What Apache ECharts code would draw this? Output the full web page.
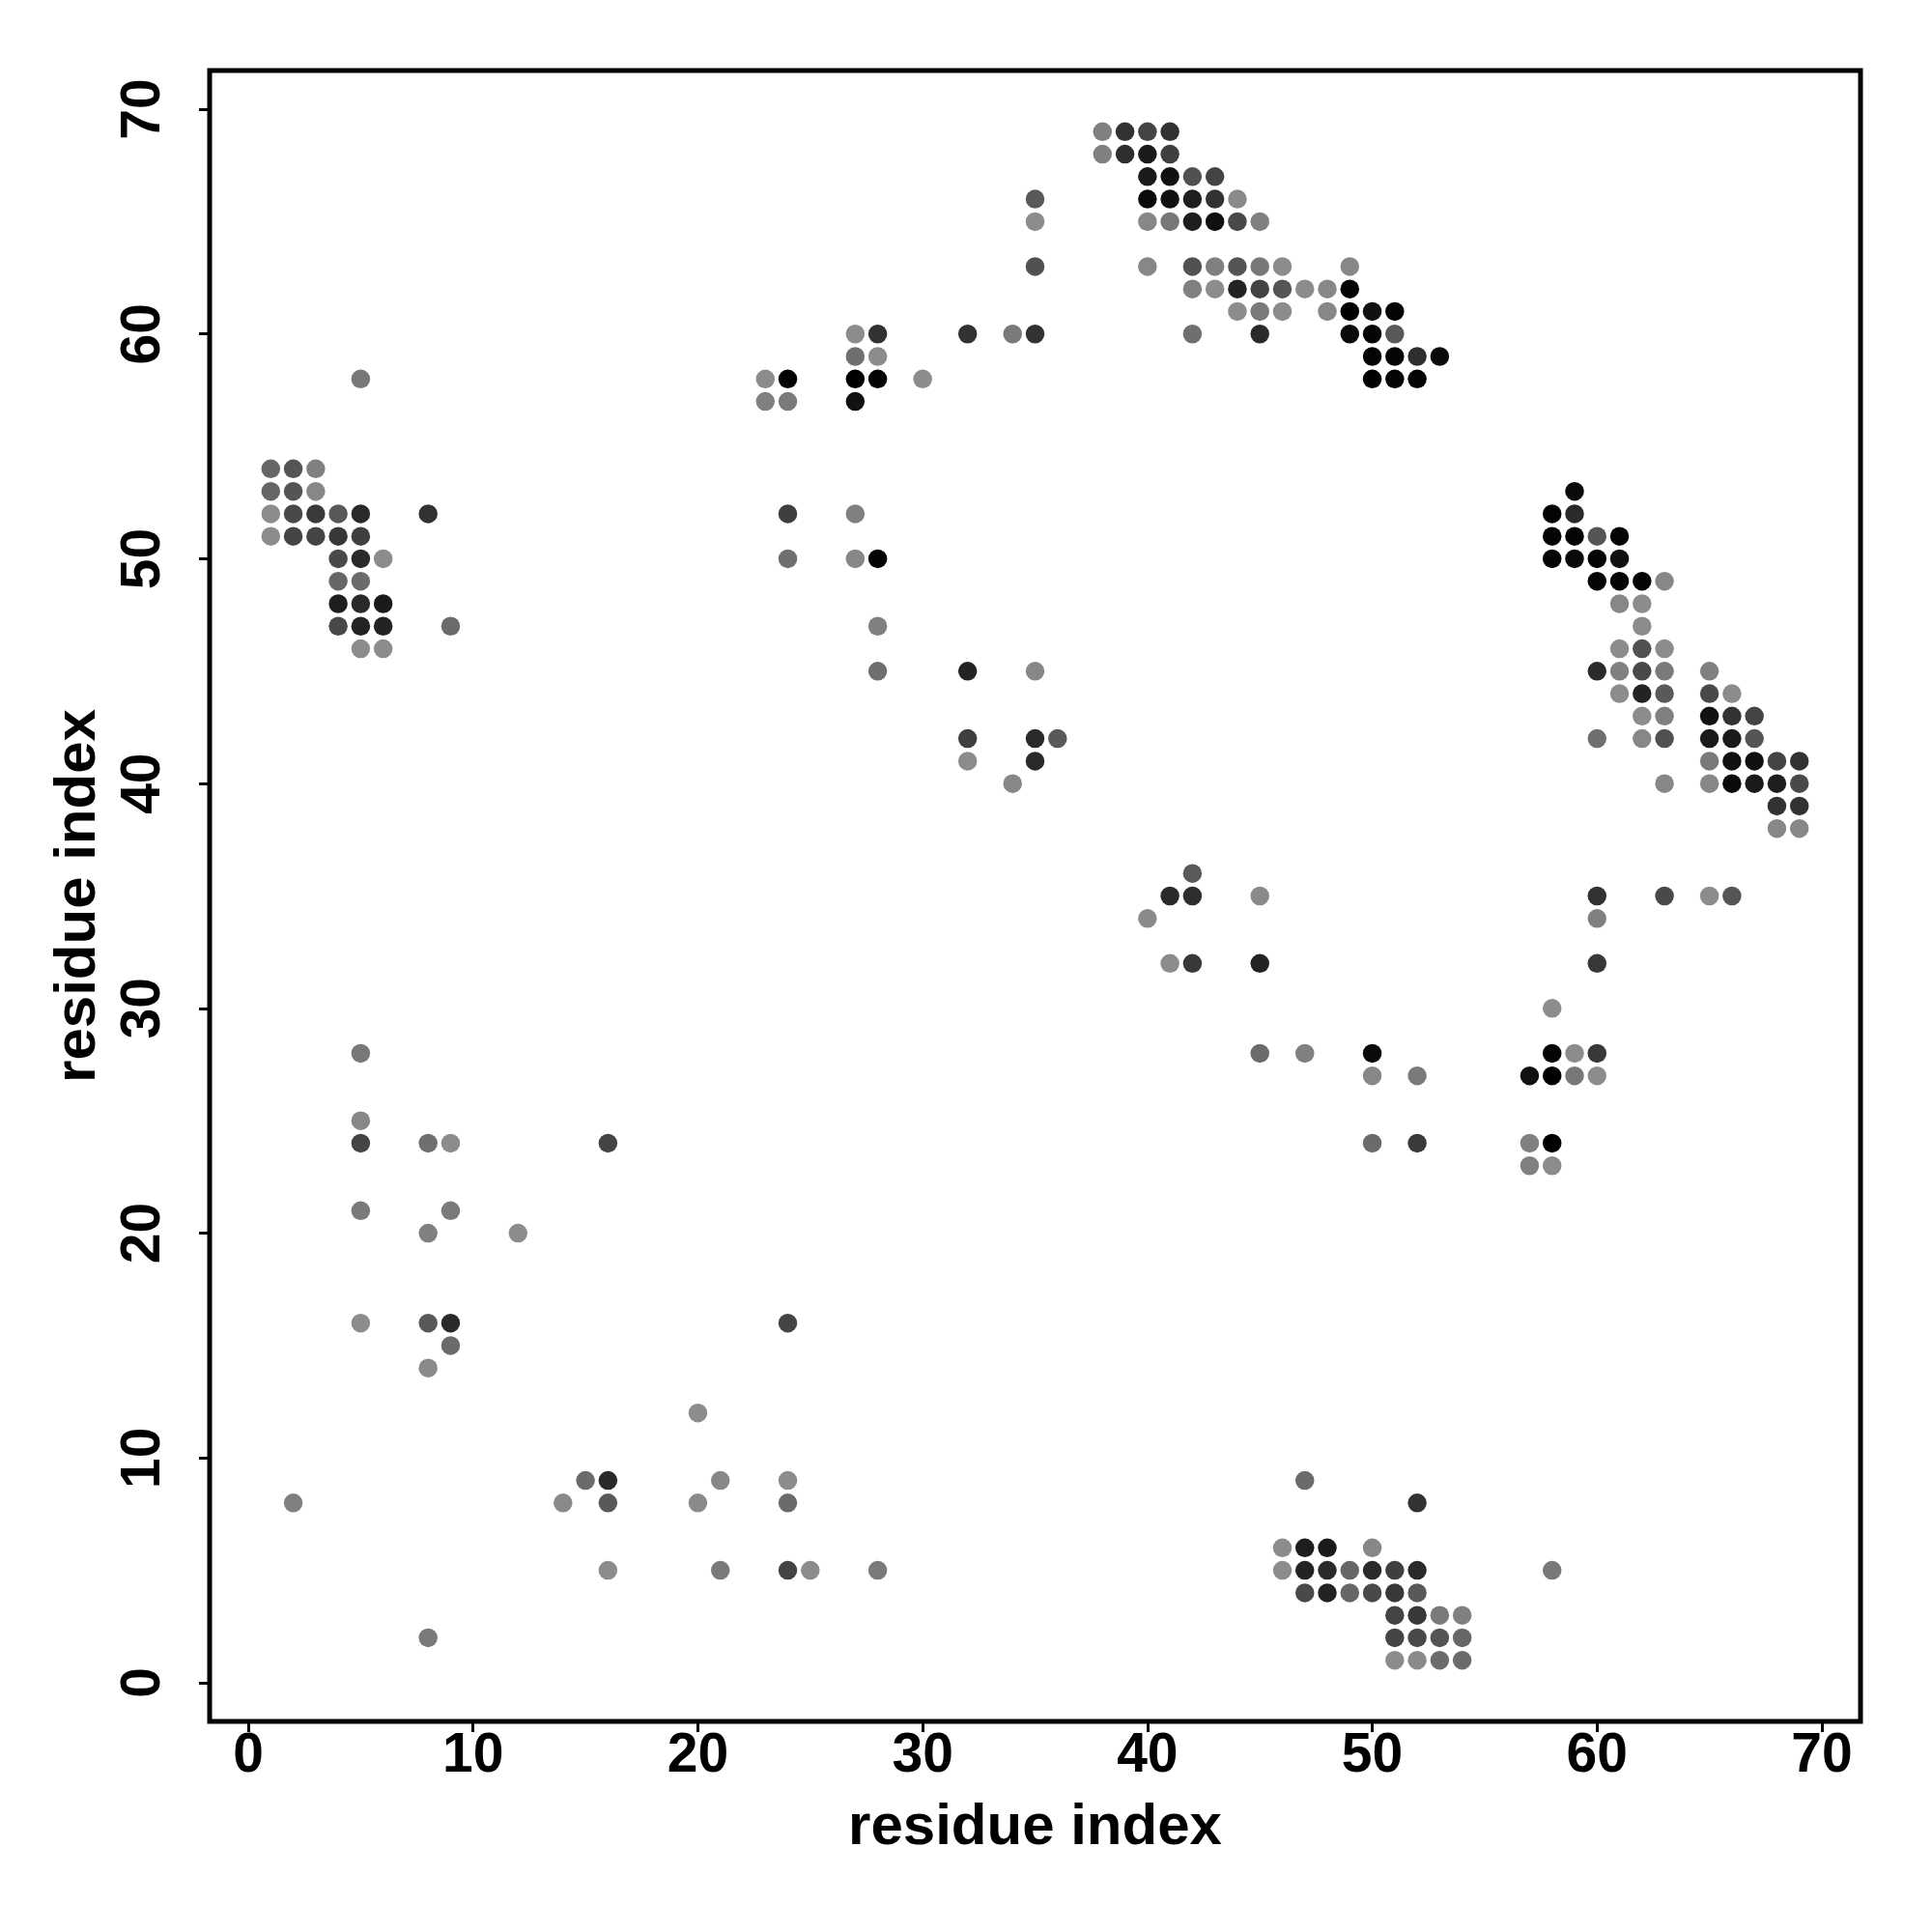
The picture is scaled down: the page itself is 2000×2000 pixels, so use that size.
<!DOCTYPE html>
<html><head><meta charset="utf-8">
<script src="https://cdn.jsdelivr.net/npm/echarts@6/dist/echarts.min.js"></script>
<style>html,body{margin:0;padding:0;background:#fff}#c{width:2000px;height:2000px}</style>
</head><body><div id="c"></div>
<script>
// ---- data ----
const tickValues = [0, 10, 20, 30, 40, 50, 60, 70];
const xTitle = 'residue index';
const yTitle = 'residue index';
const axisMin = -1.72, axisMax = 71.72;

// each contact: [residue i, residue j, strength (0 = light grey, 1 = black)]
const contactsUpperLeft = [
  [5,58,0.17],
  [1,54,0.29],[2,54,0.41],[3,54,0.11],
  [1,53,0.29],[2,53,0.41],[3,53,0.06],
  [1,52,0.03],[2,52,0.49],[3,52,0.60],[4,52,0.38],[5,52,0.71],[8,52,0.65],
  [1,51,0.03],[2,51,0.53],[3,51,0.53],[4,51,0.61],[5,51,0.56],
  [4,50,0.49],[5,50,0.71],[6,50,0.03],
  [4,49,0.29],[5,49,0.26],
  [4,48,0.79],[5,48,0.71],[6,48,0.82],
  [4,47,0.49],[5,47,0.76],[6,47,0.76],[9,47,0.26],
  [5,46,0.03],[6,46,0.03]
];
const contactsLowerLeft = [
  [5,28,0.17],[5,25,0.06],
  [5,24,0.53],[8,24,0.23],[9,24,0.03],[16,24,0.53],
  [5,21,0.15],[9,21,0.15],
  [8,20,0.11],[12,20,0.03],
  [5,16,0.03],[8,16,0.38],[9,16,0.71],[24,16,0.53],
  [9,15,0.26],[8,14,0.04],[20,12,0.03],
  [15,9,0.26],[16,9,0.71],[21,9,0.06],[24,9,0.03],
  [2,8,0.11],[14,8,0.04],[16,8,0.38],[20,8,0.04],[24,8,0.26],
  [16,5,0.03],[21,5,0.15],[24,5,0.53],[25,5,0.03],[28,5,0.15],
  [8,2,0.15]
];
const contactsLowerRight = [
  [47,9,0.26],[52,8,0.65],
  [46,6,0.03],[47,6,0.79],[48,6,0.82],[50,6,0.06],
  [46,5,0.03],[47,5,0.76],[48,5,0.71],[49,5,0.29],[50,5,0.71],[51,5,0.56],[52,5,0.71],[58,5,0.17],
  [47,4,0.49],[48,4,0.76],[49,4,0.29],[50,4,0.49],[51,4,0.61],[52,4,0.38],
  [51,3,0.53],[52,3,0.61],[53,3,0.15],[54,3,0.11],
  [51,2,0.53],[52,2,0.49],[53,2,0.41],[54,2,0.29],
  [51,1,0.03],[52,1,0.04],[53,1,0.26],[54,1,0.26]
];
const contactsMiddle = [
  [24,52,0.56],[27,52,0.11],
  [24,50,0.23],[27,50,0.06],[28,50,0.97],
  [28,47,0.11],
  [28,45,0.23],[32,45,0.76],[35,45,0.06],
  [32,42,0.56],[35,42,0.71],[36,42,0.38],
  [32,41,0.03],[35,41,0.71],[34,40,0.06],
  [42,36,0.38],[41,35,0.71],[42,35,0.68],[45,35,0.04],
  [40,34,0.04],
  [41,32,0.03],[42,32,0.61],[45,32,0.76],
  [45,28,0.26],[47,28,0.11],
  [50,28,0.93],[50,27,0.06],[52,27,0.15],
  [50,24,0.26],[52,24,0.60],
  [58,30,0.03],
  [57,27,0.88],[58,28,0.97],[58,27,1.00],[59,28,0.03],[59,27,0.17],[60,28,0.61],[60,27,0.03],
  [57,24,0.11],[58,24,1.00],[57,23,0.11],[58,23,0.03],
  [60,35,0.65],[60,34,0.11],[60,32,0.61],
  [63,35,0.49],[65,35,0.03],[66,35,0.41]
];
const contactsTopMiddle = [
  [23,58,0.03],[24,58,0.97],[23,57,0.11],[24,57,0.15],
  [27,60,0.03],[28,60,0.65],[27,59,0.23],[28,59,0.03],
  [27,58,1.00],[28,58,0.97],[27,57,0.88],[30,58,0.03],
  [32,60,0.65],[34,60,0.15],[35,60,0.65],
  [35,63,0.44],[35,65,0.03],[35,66,0.38]
];
const contactsTop = [
  [38,69,0.11],[39,69,0.65],[40,69,0.53],[41,69,0.65],
  [38,68,0.11],[39,68,0.68],[40,68,0.82],[41,68,0.56],
  [40,67,0.82],[41,67,0.88],[42,67,0.44],[43,67,0.53],
  [40,66,0.93],[41,66,0.88],[42,66,0.79],[43,66,0.65],[44,66,0.04],
  [40,65,0.06],[41,65,0.17],[42,65,0.79],[43,65,0.88],[44,65,0.49],[45,65,0.11],
  [40,63,0.06],[42,63,0.44],[43,63,0.11],[44,63,0.41],[45,63,0.17],[46,63,0.03],[49,63,0.06],
  [42,62,0.11],[43,62,0.03],[44,62,0.76],[45,62,0.53],[46,62,0.41],[47,62,0.03],[48,62,0.06],[49,62,0.97],
  [44,61,0.03],[45,61,0.15],[46,61,0.03],[48,61,0.06],[49,61,1.00],[50,61,0.88],[51,61,0.97],
  [42,60,0.23],[45,60,0.71],[49,60,0.93],[50,60,0.97],[51,60,0.38],
  [50,59,0.97],[51,59,0.97],[52,59,0.68],[53,59,0.93],
  [50,58,1.00],[51,58,0.97],[52,58,0.97]
];
const contactsRight = [
  [59,53,0.93],
  [58,52,0.97],[59,52,0.71],
  [58,51,0.97],[59,51,0.97],[60,51,0.41],[61,51,0.97],
  [58,50,0.97],[59,50,0.93],[60,50,0.97],[61,50,0.88],
  [60,49,0.97],[61,49,0.97],[62,49,0.97],[63,49,0.06],
  [61,48,0.06],[62,48,0.03],
  [62,47,0.03],
  [61,46,0.03],[62,46,0.44],[63,46,0.03],
  [60,45,0.71],[61,45,0.11],[62,45,0.49],[63,45,0.15],[65,45,0.11],
  [61,44,0.03],[62,44,0.76],[63,44,0.38],[65,44,0.49],[66,44,0.03],
  [62,43,0.03],[63,43,0.11],[65,43,0.88],[66,43,0.65],[67,43,0.53],
  [60,42,0.23],[62,42,0.06],[63,42,0.44],[65,42,0.82],[66,42,0.82],[67,42,0.41],
  [65,41,0.15],[66,41,0.88],[67,41,0.88],[68,41,0.53],[69,41,0.65],
  [63,40,0.06],[65,40,0.06],[66,40,0.93],[67,40,0.82],[68,40,0.79],[69,40,0.49],
  [68,39,0.65],[69,39,0.65],
  [68,38,0.06],[69,38,0.06]
];

const allContacts = [].concat(contactsUpperLeft, contactsLowerLeft, contactsLowerRight,
  contactsMiddle, contactsTopMiddle, contactsTop, contactsRight);

// ---- chart ----
const FONT = 'Liberation Sans';
const chart = echarts.init(document.getElementById('c'), null, {renderer: 'canvas', width: 2000, height: 2000});
const axisCommon = {
  type: 'value', min: axisMin, max: axisMax,
  splitLine: {show: false},
  axisLine: {show: false, onZero: false},
  axisTick: {show: true, customValues: tickValues, length: 11, lineStyle: {color: '#000', width: 3}},
  nameLocation: 'middle',
  nameTextStyle: {fontFamily: FONT, fontWeight: 'bold', fontSize: 60, color: '#000'}
};
chart.setOption({
  backgroundColor: '#fff',
  animation: false,
  grid: {left: 217, top: 73, width: 1709, height: 1709, show: true, borderColor: '#000', borderWidth: 5, backgroundColor: 'transparent'},
  xAxis: Object.assign({}, axisCommon, {
    name: xTitle, nameGap: 80,
    axisLabel: {customValues: tickValues, fontFamily: FONT, fontWeight: 'bold', fontSize: 57, color: '#000', margin: 8}
  }),
  yAxis: Object.assign({}, axisCommon, {
    name: yTitle, nameGap: 106,
    axisLabel: {customValues: tickValues, fontFamily: FONT, fontWeight: 'bold', fontSize: 57, color: '#000', margin: 39, rotate: 90}
  }),
  visualMap: {
    type: 'continuous', show: false, dimension: 2, min: 0, max: 1, seriesIndex: 0,
    inRange: {color: ['#909090', '#000000']}
  },
  series: [{
    type: 'scatter',
    data: allContacts,
    symbol: 'circle',
    symbolSize: 19.5,
    itemStyle: {opacity: 1}
  }]
});
</script>
</body></html>
